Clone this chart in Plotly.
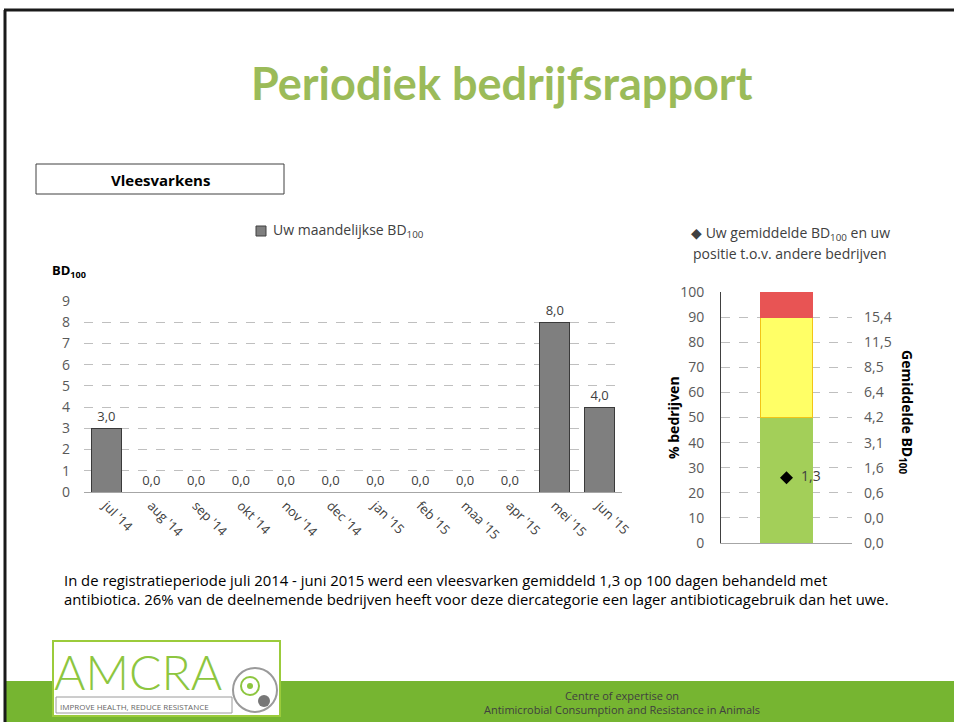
import plotly.graph_objects as go

W, H = 954, 722

# ---- data ----
months = ["jul '14", "aug '14", "sep '14", "okt '14", "nov '14", "dec '14",
          "jan '15", "feb '15", "maa '15", "apr '15", "mei '15", "jun '15"]
bd100_monthly = [3.0, 0, 0, 0, 0, 0, 0, 0, 0, 0, 8.0, 4.0]

pct_segments = [50, 40, 10]          # green, yellow, red (% bedrijven)
segment_colors = ["#A3CF59", "#FFFF66", "#E85454"]
segment_lines = ["#A3CF59", "#F2C417", "#E85454"]
avg_bd100 = 1.3
avg_position_pct = 26

pct_ticks = [0, 10, 20, 30, 40, 50, 60, 70, 80, 90, 100]
bd100_tickvals = [0, 10, 20, 30, 40, 50, 60, 70, 80, 90]
bd100_ticktext = ["0,0", "0,0", "0,6", "1,6", "3,1", "4,2", "6,4", "8,5", "11,5", "15,4"]


def px(x):
    return x / W


def py(y):
    return 1 - y / H


fig = go.Figure()

# left chart: monthly BD100
fig.add_trace(go.Bar(
    x=months, y=bd100_monthly, xaxis="x", yaxis="y",
    marker=dict(color="#7F7F7F", line=dict(color="#3A3A3A", width=1)),
    texttemplate="%{y:.1f}", textposition="outside", cliponaxis=False,
    textfont=dict(family="Open Sans", size=13, color="#404040"),
    showlegend=False, hoverinfo="skip"))

# right chart: stacked percentile bar
for val, col, lc in zip(pct_segments, segment_colors, segment_lines):
    fig.add_trace(go.Bar(
        x=["positie"], y=[val], xaxis="x2", yaxis="y2", width=0.4,
        marker=dict(color=col, line=dict(color=lc, width=1)),
        showlegend=False, hoverinfo="skip"))

fig.add_trace(go.Scatter(
    x=["positie"], y=[avg_position_pct], xaxis="x2", yaxis="y2",
    mode="markers+text", marker=dict(symbol="diamond", size=10, color="black"),
    text=["\u00a0\u00a0" + f"{avg_bd100:.1f}".replace(".", ",")], textposition="middle right",
    textfont=dict(family="Open Sans", size=14, color="#404040"),
    showlegend=False, hoverinfo="skip", cliponaxis=False))

# dummy trace to force the right axis
fig.add_trace(go.Scatter(x=["positie"], y=[None], xaxis="x2", yaxis="y3",
                         showlegend=False, hoverinfo="skip"))

grid = dict(showgrid=True, gridcolor="#BFBFBF", griddash="dash", gridwidth=1)

fig.update_layout(
    template="none",
    width=W, height=H, autosize=False,
    margin=dict(l=0, r=0, t=0, b=0, pad=0),
    paper_bgcolor="white", plot_bgcolor="white",
    separators=",.",
    barmode="stack", bargap=0.33,
    font=dict(family="Open Sans", color="#404040"),
    xaxis=dict(domain=[px(84), px(622)], anchor="y", tickangle=45, automargin=False,
               tickfont=dict(size=13, color="#404040"),
               showline=True, linecolor="#A6A6A6", linewidth=1,
               ticks="", showgrid=False, fixedrange=True),
    yaxis=dict(domain=[py(492), py(301)], anchor="x", range=[0, 9], dtick=1,
               automargin=False, tickfont=dict(size=14, color="#595959"),
               showline=False,
               zeroline=False, ticks="", ticklabelstandoff=13, **grid),
    xaxis2=dict(domain=[px(721), px(852)], anchor="y2", range=[-0.5, 0.5],
                automargin=False, showticklabels=False, showline=True,
                linecolor="#A6A6A6", ticks="", showgrid=False),
    yaxis2=dict(domain=[py(543), py(292)], anchor="x2", range=[0, 100],
                automargin=False, tickvals=pct_ticks,
                tickfont=dict(size=14, color="#595959"),
                showline=True, linecolor="#404040", linewidth=1,
                zeroline=False, ticks="", ticklabelstandoff=13, **grid),
    yaxis3=dict(overlaying="y2", anchor="x2", side="right", range=[0, 100],
                automargin=False, tickvals=bd100_tickvals, ticktext=bd100_ticktext,
                tickfont=dict(size=14, color="#595959"),
                showgrid=False, zeroline=False, showline=False, ticks="",
                ticklabelstandoff=11),
)

shapes = []
annotations = []

# slide frame
shapes.append(dict(type="line", xref="paper", yref="paper",
                   x0=px(5), x1=px(5), y0=py(10), y1=py(722),
                   line=dict(color="#1A1A1A", width=3)))
shapes.append(dict(type="line", xref="paper", yref="paper",
                   x0=px(4), x1=px(954), y0=py(10), y1=py(10),
                   line=dict(color="#1A1A1A", width=3)))

# footer band
shapes.append(dict(type="rect", xref="paper", yref="paper",
                   x0=px(6), x1=px(954), y0=py(722), y1=py(681),
                   fillcolor="#76B531", line=dict(width=0), layer="below"))

# title
annotations.append(dict(x=px(502), y=py(83), xref="paper", yref="paper",
                        text="<b>Periodiek bedrijfsrapport</b>", showarrow=False,
                        font=dict(family="Lato", size=45, color="#9BBB59"),
                        xanchor="center", yanchor="middle"))

# Vleesvarkens box
shapes.append(dict(type="rect", xref="paper", yref="paper",
                   x0=px(36), x1=px(284), y0=py(194), y1=py(164),
                   line=dict(color="#404040", width=1), fillcolor="white"))
annotations.append(dict(x=px(160), y=py(180), xref="paper", yref="paper",
                        text="<b>Vleesvarkens</b>", showarrow=False,
                        font=dict(family="Open Sans", size=15, color="black"),
                        xanchor="center", yanchor="middle"))

# left legend
shapes.append(dict(type="rect", xref="paper", yref="paper",
                   x0=px(256), x1=px(266), y0=py(236), y1=py(226),
                   fillcolor="#7F7F7F", line=dict(color="#404040", width=1)))
annotations.append(dict(x=px(271), y=py(231), xref="paper", yref="paper",
                        text="Uw maandelijkse BD<sub>100</sub>", showarrow=False,
                        font=dict(family="Open Sans", size=14, color="#404040"),
                        xanchor="left", yanchor="middle"))

# BD100 axis label
annotations.append(dict(x=px(50), y=py(271), xref="paper", yref="paper",
                        text="<b>BD<sub>100</sub></b>", showarrow=False,
                        font=dict(family="Open Sans", size=13, color="black"),
                        xanchor="left", yanchor="middle"))

# right legend (two lines)
annotations.append(dict(x=px(790), y=py(233), xref="paper", yref="paper",
                        text="◆ Uw gemiddelde BD<sub>100</sub> en uw",
                        showarrow=False, align="center",
                        font=dict(family="Open Sans", size=14, color="#404040"),
                        xanchor="center", yanchor="middle"))
annotations.append(dict(x=px(790), y=py(254), xref="paper", yref="paper",
                        text="positie t.o.v. andere bedrijven",
                        showarrow=False, align="center",
                        font=dict(family="Open Sans", size=14, color="#404040"),
                        xanchor="center", yanchor="middle"))

# right axis titles
annotations.append(dict(x=px(673), y=py(418), xref="paper", yref="paper",
                        text="<b>% bedrijven</b>", showarrow=False, textangle=-90,
                        font=dict(family="Open Sans", size=14, color="black"),
                        xanchor="center", yanchor="middle"))
annotations.append(dict(x=px(907), y=py(412), xref="paper", yref="paper",
                        text="<b>Gemiddelde BD<sub>100</sub></b>", showarrow=False, textangle=90,
                        font=dict(family="Open Sans", size=14, color="black"),
                        xanchor="center", yanchor="middle"))

# bottom text
annotations.append(dict(x=px(62), y=py(589), xref="paper", yref="paper",
                        text="In de registratieperiode juli 2014 - juni 2015 werd een vleesvarken gemiddeld 1,3 op 100 dagen behandeld met<br>"
                             "antibiotica. 26% van de deelnemende bedrijven heeft voor deze diercategorie een lager antibioticagebruik dan het uwe.",
                        showarrow=False, align="left",
                        font=dict(family="Open Sans", size=14.85, color="black"),
                        xanchor="left", yanchor="middle"))

# footer text
annotations.append(dict(x=px(622), y=py(702), xref="paper", yref="paper",
                        text="Centre of expertise on<br>Antimicrobial Consumption and Resistance in Animals",
                        showarrow=False, align="center",
                        font=dict(family="Open Sans", size=11, color="#3F3F3F"),
                        xanchor="center", yanchor="middle"))

# AMCRA logo
shapes.append(dict(type="rect", xref="paper", yref="paper",
                   x0=px(53), x1=px(280), y0=py(716), y1=py(641),
                   fillcolor="white", line=dict(color="#9BCB3B", width=2)))
shapes.append(dict(type="rect", xref="paper", yref="paper",
                   x0=px(56), x1=px(232), y0=py(713), y1=py(697),
                   fillcolor="white", line=dict(color="#9A9A9A", width=1)))
annotations.append(dict(x=px(138), y=py(671), xref="paper", yref="paper",
                        text="AMCRA", showarrow=False,
                        font=dict(family="Lato", size=48, color="#8DC63F", weight=300),
                        xanchor="center", yanchor="middle"))
annotations.append(dict(x=px(58), y=py(706), xref="paper", yref="paper",
                        text="IMPROVE HEALTH, REDUCE RESISTANCE", showarrow=False,
                        font=dict(family="Open Sans", size=8, color="#666666"),
                        xanchor="left", yanchor="middle"))
shapes.append(dict(type="circle", xref="paper", yref="paper",
                   x0=px(233), x1=px(277), y0=py(712), y1=py(668),
                   fillcolor="white", line=dict(color="#9A9A9A", width=2)))
shapes.append(dict(type="circle", xref="paper", yref="paper",
                   x0=px(241), x1=px(259), y0=py(695), y1=py(677),
                   fillcolor="white", line=dict(color="#8DC63F", width=2)))
shapes.append(dict(type="circle", xref="paper", yref="paper",
                   x0=px(247), x1=px(253), y0=py(689), y1=py(683),
                   fillcolor="#8DC63F", line=dict(width=0)))
shapes.append(dict(type="circle", xref="paper", yref="paper",
                   x0=px(258), x1=px(270), y0=py(707), y1=py(695),
                   fillcolor="#777777", line=dict(width=0)))

fig.update_layout(shapes=shapes, annotations=annotations)

post = ("document.documentElement.style.margin='0';"
        "document.documentElement.style.overflow='hidden';"
        "document.body.style.margin='0';document.body.style.overflow='hidden';"
        "var gd=document.getElementById('{plot_id}');"
        "gd.style.position='fixed';gd.style.left='0px';gd.style.top='0px';")

fig.write_html("out.html", post_script=post, config={"displayModeBar": False})
